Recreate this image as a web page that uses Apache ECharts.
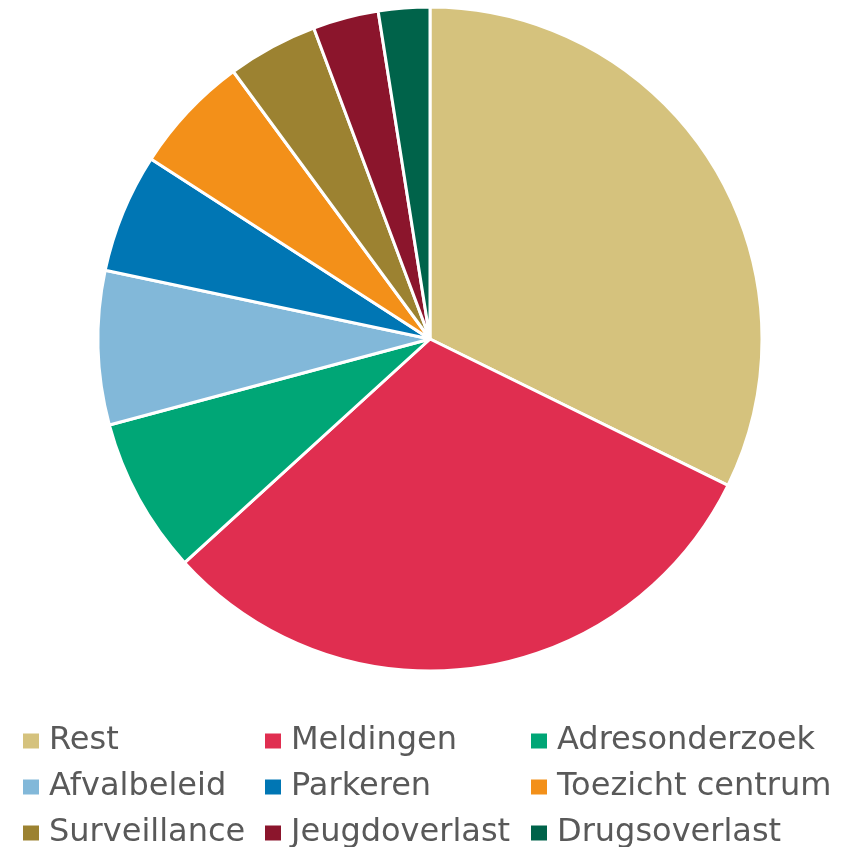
<!DOCTYPE html>
<html>
<head>
<meta charset="utf-8">
<script src="https://cdn.jsdelivr.net/npm/echarts@6/dist/echarts.min.js"></script>
<style>
html, body { margin: 0; padding: 0; background: #fff; }
#pie { width: 846px; height: 847px; }
</style>
</head>
<body>
<div id="pie"></div>
<script>
var categories = ['Rest', 'Meldingen', 'Adresonderzoek', 'Afvalbeleid', 'Parkeren',
    'Toezicht centrum', 'Surveillance', 'Jeugdoverlast', 'Drugsoverlast'];
var values = [32.3, 31.0, 7.6, 7.5, 5.8, 5.8, 4.4, 3.2, 2.5];
var colors = ['#D5C27D', '#E02E50', '#00A676', '#82B8D9', '#0076B4',
    '#F39019', '#9C8231', '#8B152C', '#00634A'];

var pieChart = echarts.init(document.getElementById('pie'), null, {renderer: 'canvas'});

var legendText = {fontSize: 32, color: '#595959', fontFamily: 'DejaVu Sans', lineHeight: 32,
    padding: [0, 0, 0, 4]};

function legendCol(x, names) {
    return {
        orient: 'vertical',
        left: x,
        top: 725,
        height: 200,
        itemWidth: 18,
        itemHeight: 17,
        itemGap: 14,
        icon: 'rect',
        padding: 0,
        textStyle: legendText,
        data: names,
        selectedMode: false
    };
}

var pieData = categories.map(function (c, i) {
    return {name: c, value: values[i], itemStyle: {color: colors[i]}};
});

pieChart.setOption({
    animation: false,
    legend: [
        legendCol(21, [categories[0], categories[3], categories[6]]),
        legendCol(263, [categories[1], categories[4], categories[7]]),
        legendCol(529, [categories[2], categories[5], categories[8]])
    ],
    series: [{
        type: 'pie',
        center: [430, 339],
        radius: 332,
        startAngle: 90,
        clockwise: true,
        label: {show: false},
        labelLine: {show: false},
        itemStyle: {borderColor: '#ffffff', borderWidth: 3},
        emphasis: {disabled: true},
        data: pieData
    }]
});
</script>
</body>
</html>
